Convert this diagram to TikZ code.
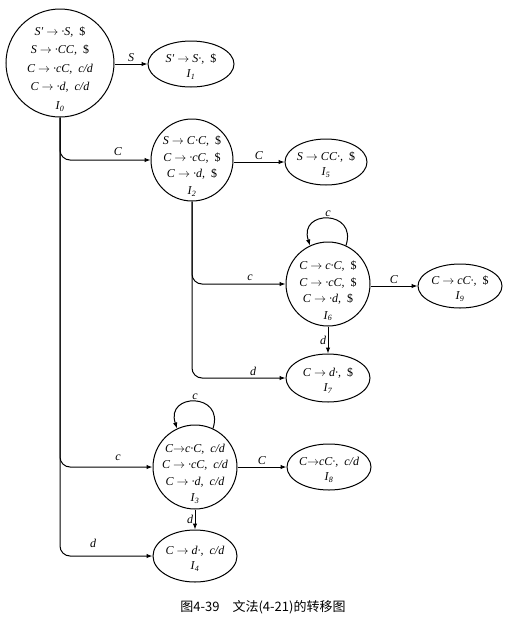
\documentclass[tikz,border=0pt]{standalone}
\usepackage{fontspec}
\setmainfont{Liberation Serif}
\newfontfamily\cjk{Noto Sans CJK SC}
\usetikzlibrary{shapes.geometric,arrows.meta}
\newcommand{\arr}{\ $\rightarrow$\ }
\newcommand{\cm}{,\enspace}
\newcommand{\dol}{\textup{\$}}
\newcommand{\st}[1]{\textit{I}\kern0.5pt\textsubscript{#1}}
\tikzset{
  circ/.style={draw,circle,line width=1pt,inner sep=0pt},
  ell/.style={draw,ellipse,line width=1pt,inner sep=0pt},
  txt/.style={align=center,font=\fontsize{12}{16.5}\selectfont\itshape,inner sep=0pt},
  txtbig/.style={align=center,font=\fontsize{12}{18.5}\selectfont\itshape,inner sep=0pt},
  txtell/.style={align=center,font=\fontsize{12}{15}\selectfont\itshape,inner sep=0pt},
  lab/.style={font=\fontsize{12}{13}\selectfont\itshape,inner sep=1.5pt},
  arc/.style={line width=1pt,-{Latex[length=6pt,width=4.5pt]}},
}
\begin{document}
\begin{tikzpicture}[x=1pt,y=-1pt]
\useasboundingbox (0,0) rectangle (531,625);
% states
\node[circ,minimum size=108] (I0) at (60,63) {};
\node[txtbig] (t0) at (60,69) {S′\arr·S\cm\dol\\ S\arr·CC\cm\dol\\ C\arr·cC\cm c/d\\ C\arr·d\cm c/d\\ \st{0}};
\node[ell,minimum width=86,minimum height=46] (I1) at (191,64) {};
\node[txtell] (t1) at (191,67) {S′\arr S·\cm\dol\\ \st{1}};
\node[circ,minimum size=82] (I2) at (192,160) {};
\node[txt] (t2) at (192,166) {S\arr C·C\cm\dol\\ C\arr·cC\cm\dol\\ C\arr·d\cm\dol\\ \st{2}};
\node[ell,minimum width=82,minimum height=46] (I5) at (326,162) {};
\node[txtell] (t5) at (326,165) {S\arr CC·\cm\dol\\ \st{5}};
\node[circ,minimum size=84] (I6) at (328,284) {};
\node[txt] (t6) at (328,291) {C\arr c·C\cm\dol\\ C\arr·cC\cm\dol\\ C\arr·d\cm\dol\\ \st{6}};
\node[ell,minimum width=84,minimum height=44] (I9) at (460,286) {};
\node[txtell] (t9) at (460,289) {C\arr cC·\cm\dol\\ \st{9}};
\node[ell,minimum width=84,minimum height=48] (I7) at (328,378) {};
\node[txtell] (t7) at (328,381) {C\arr d·\cm\dol\\ \st{7}};
\node[circ,minimum size=84] (I3) at (195,467) {};
\node[txt] (t3) at (195,474) {C$\rightarrow$c·C\cm c/d\\ C\arr·cC\cm c/d\\ C\arr·d\cm c/d\\ \st{3}};
\node[ell,minimum width=84,minimum height=46] (I8) at (329,467) {};
\node[txtell] (t8) at (329,470) {C$\rightarrow$cC·\cm c/d\\ \st{8}};
\node[ell,minimum width=84,minimum height=52] (I4) at (195,556) {};
\node[txtell] (t4) at (195,559) {C\arr d·\cm c/d\\ \st{4}};
% transitions
\draw[arc] (I0.east |- I1.west) -- node[lab,above] (lS) {S} (I1.west);
\draw[arc,rounded corners=10pt] (I0.south) |- (I2.west);
\draw[arc,rounded corners=10pt] (I0.south) |- (I3.west);
\draw[arc,rounded corners=10pt] (I0.south) |- (I4.west);
\node[lab] (lC02) at (118,152) {C};
\node[lab] (lc03) at (118,458) {c};
\node[lab] (ld04) at (93,543) {d};
\draw[arc] (I2.east |- I5.west) -- node[lab,above] (lC25) {C} (I5.west);
\draw[arc,rounded corners=10pt] (I2.south) |- (I6.west);
\draw[arc,rounded corners=10pt] (I2.south) |- (I7.west);
\node[lab] (lc26) at (250,278) {c};
\node[lab] (ld27) at (253,371) {d};
\draw[arc] (I6.east |- I9.west) -- node[lab,above] (lC69) {C} (I9.west);
\draw[arc] (I6.south) -- node[lab,left] (ld67) {d} (I7.north);
\draw[arc] (I6.65) .. controls +(12,-36) and +(-12,-36) .. node[lab,above] (lc66) {c} (I6.115);
\draw[arc] (I3.east) -- node[lab,above] (lC38) {C} (I8.west);
\draw[arc] (I3.south) -- node[lab,left] (ld34) {d} (I4.north);
\draw[arc] (I3.65) .. controls +(12,-36) and +(-12,-36) .. node[lab,above] (lc33) {c} (I3.115);
% caption
\node[font=\cjk\fontsize{13}{14}\selectfont,inner sep=0pt] (cap) at (263,607) {图4-39\quad 文法(4-21)的转移图};
\end{tikzpicture}
\end{document}
